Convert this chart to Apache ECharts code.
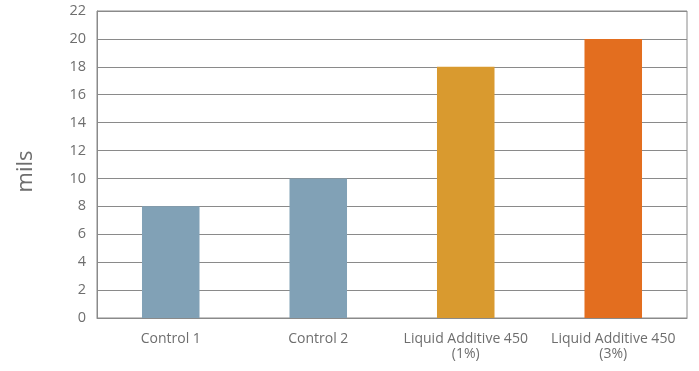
<!DOCTYPE html>
<html>
<head>
<meta charset="utf-8">
<script src="https://cdn.jsdelivr.net/npm/echarts@6/dist/echarts.min.js"></script>
<style>
  html, body { margin: 0; padding: 0; background: #fff; }
  #chart { width: 699px; height: 371px; }
</style>
</head>
<body>
<div id="chart"></div>
<script>
// Coating thickness per formulation
const categories = ['Control 1', 'Control 2', 'Liquid Additive 450\n(1%)', 'Liquid Additive 450\n(3%)'];
const thickness = [8, 10, 18, 20];
const barColors = ['#81a1b6', '#81a1b6', '#d99a2f', '#e36e1f'];
const yTicks = { min: 0, max: 22, interval: 2 };

const chart = echarts.init(document.getElementById('chart'), null, { renderer: 'canvas' });
const font = '"Open Sans", "Noto Sans", sans-serif';

chart.setOption({
  animation: false,
  grid: { left: 97, right: 12, top: 11, bottom: 53, show: true, borderColor: '#8a8a8a', borderWidth: 1 },
  xAxis: {
    type: 'category',
    data: categories,
    axisLine: { lineStyle: { color: '#8a8a8a', width: 1 } },
    axisTick: { show: false },
    axisLabel: { color: '#6e6e6e', fontFamily: font, fontSize: 14, margin: 14, lineHeight: 15, interval: 0 }
  },
  yAxis: {
    type: 'value',
    min: yTicks.min, max: yTicks.max, interval: yTicks.interval,
    name: 'mils',
    nameLocation: 'middle',
    nameGap: 60,
    nameRotate: 90,
    nameTextStyle: { color: '#6e6e6e', fontFamily: font, fontSize: 22, padding: [0, 14, 0, 0] },
    axisLine: { show: true, lineStyle: { color: '#8a8a8a', width: 1 } },
    axisTick: { show: false },
    splitLine: { lineStyle: { color: '#8a8a8a', width: 1 } },
    axisLabel: { color: '#6e6e6e', fontFamily: font, fontSize: 14.5, margin: 11 }
  },
  series: [{
    type: 'bar',
    barWidth: '39%',
    data: thickness.map((v, i) => ({ value: v, itemStyle: { color: barColors[i] } }))
  }]
});
</script>
</body>
</html>
